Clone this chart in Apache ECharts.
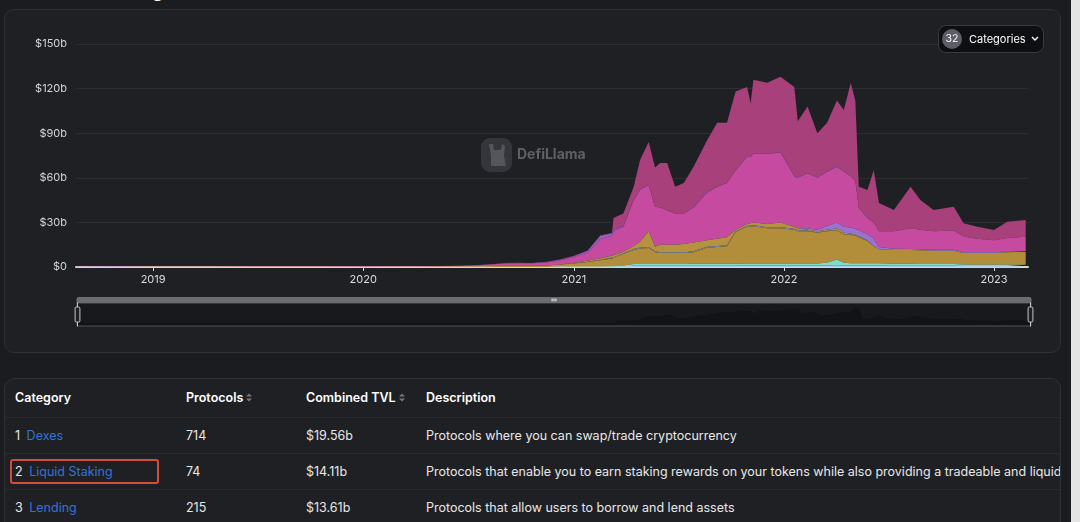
<!DOCTYPE html>
<html><head><meta charset="utf-8">
<script src="https://cdn.jsdelivr.net/npm/echarts@6/dist/echarts.min.js"></script>
<style>
html,body{margin:0;padding:0;width:1080px;height:522px;overflow:hidden;background:#1b1c20;font-family:Inter,"Noto Sans",sans-serif;}
#title{position:absolute;left:28px;top:-19px;font-size:19px;font-weight:600;color:#fff;line-height:20px;white-space:nowrap;}
#panel{position:absolute;left:4px;top:9px;width:1055px;height:342px;border:1px solid #303136;border-radius:10px;background:#1f2024;}
#chart{position:absolute;left:0;top:0;width:1055px;height:342px;}
#btn{position:absolute;left:938px;top:25px;width:104px;height:26px;border:1px solid #3a3b41;border-radius:8px;background:#0e0f12;color:#fff;font-size:11px;}
#btn .num{position:absolute;left:3px;top:3px;width:20px;height:20px;border-radius:10px;background:#5c5d66;text-align:center;line-height:20px;font-size:10.5px;}
#btn .lab{position:absolute;left:30px;top:0;line-height:26px;}
#btn svg{position:absolute;left:92px;top:10px;}
#tpanel{position:absolute;left:4px;top:378px;width:1055px;height:160px;border:1px solid #303136;border-radius:10px;background:#1f2024;overflow:hidden;color:#e8e8e8;font-size:12.5px;white-space:nowrap;}
.cell{position:absolute;line-height:16px;}
.hd{font-weight:600;color:#fff;}
.lnk{color:#3573d9;margin-left:3px;}
.sep{position:absolute;left:0;width:1055px;height:1px;background:#292a2f;}
#hl{position:absolute;left:5px;top:80px;width:145px;height:21px;border:2px solid #d64b3a;border-radius:3px;}
#scroll{position:absolute;right:0;top:0;width:9px;height:522px;background:#e4e4e4;}
</style></head>
<body>
<div id="title">Protocol Categories</div>
<div id="panel"><div id="chart"></div></div>
<div id="btn"><div class="num">32</div><div class="lab">Categories</div>
<svg width="8" height="6" viewBox="0 0 8 6"><path d="M1 1 L4 4 L7 1" stroke="#fff" stroke-width="1.4" fill="none"/></svg></div>
<div id="tpanel">
  <div class="cell hd" style="left:10px;top:11px">Category</div>
  <div class="cell hd" style="left:181px;top:11px">Protocols <svg width="6" height="9" viewBox="0 0 6 9"><path d="M0 3.5 L3 0.5 L6 3.5Z M0 5.5 L3 8.5 L6 5.5Z" fill="#777"/></svg></div>
  <div class="cell hd" style="left:301px;top:11px">Combined TVL <svg width="6" height="9" viewBox="0 0 6 9"><path d="M0 3.5 L3 0.5 L6 3.5Z M0 5.5 L3 8.5 L6 5.5Z" fill="#777"/></svg></div>
  <div class="cell hd" style="left:421px;top:11px">Description</div>
  <div class="sep" style="top:38px"></div>
  <div class="cell" style="left:10px;top:49px">1 <span class="lnk">Dexes</span></div>
  <div class="cell" style="left:181px;top:49px">714</div>
  <div class="cell" style="left:301px;top:49px">$19.56b</div>
  <div class="cell" style="left:421px;top:49px">Protocols where you can swap/trade cryptocurrency</div>
  <div class="sep" style="top:74px"></div>
  <div class="cell" style="left:10px;top:85px">2 <span class="lnk">Liquid Staking</span></div>
  <div class="cell" style="left:181px;top:85px">74</div>
  <div class="cell" style="left:301px;top:85px">$14.11b</div>
  <div class="cell" style="left:421px;top:85px">Protocols that enable you to earn staking rewards on your tokens while also providing a tradeable and liquid receipt for your staked position</div>
  <div class="sep" style="top:110px"></div>
  <div class="cell" style="left:10px;top:121px">3 <span class="lnk">Lending</span></div>
  <div class="cell" style="left:181px;top:121px">215</div>
  <div class="cell" style="left:301px;top:121px">$13.61b</div>
  <div class="cell" style="left:421px;top:121px">Protocols that allow users to borrow and lend assets</div>
  <div id="hl"></div>
</div>
<div id="scroll"></div>
<script>
const dates = ['2018-08-20','2018-11-01','2019-01-01','2019-04-01','2019-07-01','2019-10-01','2020-01-01','2020-04-01','2020-06-15','2020-07-20',
'2020-08-15','2020-09-05','2020-09-25','2020-10-20','2020-11-15','2020-12-09',
'2021-01-01','2021-01-25','2021-02-16','2021-03-08','2021-03-11','2021-03-28',
'2021-04-15','2021-04-26','2021-05-11','2021-05-22','2021-05-31','2021-06-12','2021-06-26','2021-07-11',
'2021-07-28','2021-08-20','2021-09-07','2021-09-24','2021-10-09',
'2021-10-29','2021-11-04','2021-11-09','2021-12-03','2021-12-26','2022-01-19','2022-01-25','2022-02-11','2022-02-28',
'2022-03-17','2022-04-03','2022-04-15','2022-04-27','2022-05-05','2022-05-11','2022-05-26','2022-06-06','2022-06-15',
'2022-07-11','2022-08-09','2022-08-26','2022-09-18','2022-10-23',
'2022-11-09','2022-12-03','2023-01-01','2023-01-24','2023-02-25'];

const blueTvl = [0,0,0,0,0,0,0,0,0,0, 0,0,0,0,0,0, 0,0,0,0,0,0.3,
0.8,0.8,0.8,0.8,0.8,0.8,0.8,0.8, 0.9,0.9,0.9,0.9,0.9,
1.0,1.0,1.0,1.0,1.0,1.0,1.0,1.0,1.0, 1.0,1.2,1.0,1.0,1.0,1.0,1.0,1.0,1.0,
0.8,0.8,0.8,0.8,0.8, 0.7,0.6,0.6,0.6,0.6];
const cyanTvl = [0,0,0,0,0,0,0,0,0,0, 0.05,0.05,0.05,0.05,0.05,0.1, 0.1,0.1,0.2,0.3,0.4,0.7,
1.2,1.2,1.2,1.2,1.2,1.2,1.2,1.2, 1.3,1.3,1.3,1.3,1.3,
1.4,1.4,1.4,1.4,1.4,1.4,1.4,1.4,1.4, 1.8,3.8,1.8,1.6,1.5,1.5,1.5,1.5,1.5,
1.4,1.4,1.3,1.3,1.3, 1.0,0.9,0.9,0.9,0.9];
const goldTvl = [0.05,0.08,0.1,0.12,0.15,0.15,0.2,0.2,0.3,0.4, 0.6,0.8,0.8,0.8,1.0,1.5, 2.2,3.2,4.3,5.5,5.6,7.7,
9.5,10.5,10.7,8.0,7.4,7.4,7.4,7.4, 7.8,10.8,11.3,11.8,21.3,
24.6,24.6,25.0,23.6,23.6,22.6,21.6,21.6,20.6, 21.2,19.5,19.0,19.0,18.5,17.5,15.0,11.5,9.5,
9.3,9.3,9.1,8.9,8.9, 7.8,7.9,7.9,8.5,8.8];
const slateTvl = [0,0,0,0,0,0,0,0,0,0, 0,0,0,0,0,0, 0.2,0.3,0.4,0.5,0.5,0.5,
0.6,0.6,0.6,0.6,0.6,0.6,0.6,0.6, 0.6,0.6,0.6,0.6,0.6,
0.7,0.7,0.7,0.7,0.7,0.7,0.7,0.5,0.4, 0.3,0.3,0.3,0.3,0.3,0.3,0.3,0,0,
0,0,0,0,0, 0,0,0,0,0];
const gold2Tvl = [0,0,0,0,0,0,0,0,0,0, 0,0,0,0,0,0, 0.3,0.6,1.0,1.2,1.5,1.1,
2.0,3.9,10.7,3.1,5.0,5.0,5.0,5.5, 5.9,4.4,4.9,5.4,0.9,
1.3,1.7,1.9,2.3,3.3,1.3,1.3,0.5,0.6, 0.7,1.2,0.9,0.6,0.5,0.5,0.2,0,0,
0,0,0,0,0, 0,0,0,0,0];
const violetTvl = [0,0,0,0,0,0,0,0,0,0, 0,0,0,0,0,0, 0,0,0,0,0,0,
0,0,0,0,0,0,0,0, 0,0,0,0,0,
0,0,0,0,0,0,0,1.0,1.0, 2.5,4.0,4.0,4.0,4.0,4.0,4.0,5.0,1.5,
0.8,0.6,0.6,0.6,0.6, 0.5,0.5,0.5,0.5,0.5];
const pinkTvl = [0.1,0.15,0.2,0.25,0.3,0.3,0.35,0.3,0.5,0.8, 1.2,1.6,1.7,1.6,2.0,3.0, 4.0,5.5,13.0,13.5,16.0,16.7,
31.0,35.0,31.0,26.8,25.0,23.0,21.0,20.5, 23.5,32.0,35.0,36.5,40.0,
45.0,44.6,46.0,47.0,47.0,34.0,34.0,37.0,35.0, 36.5,37.5,37.0,34.5,32.2,15.0,11.0,11.0,10.5,
11.7,13.9,13.2,12.4,12.9, 10.5,9.1,8.1,9.0,9.6];
const purpleTvl = [0.05,0.05,0.05,0.05,0.05,0.05,0.05,0.05,0.05,0.1, 0.1,0.15,0.2,0.2,0.3,0.4, 0.5,1.2,2.0,1.5,1.0,0.5,
0.3,0.2,0.2,0.2,0.2,0.2,0.2,0.2, 0.2,0.2,0.2,0.2,0.2,
0.2,0.2,0.2,0.2,0.2,0.2,0.2,0.2,0.2, 0.2,0.2,0.2,0.2,0.2,0.2,0.2,0.2,0,
0,0,0,0,0, 0,0,0,0,0];
const roseTvl = [0,0,0,0,0,0,0,0,0.05,0.05, 0.1,0.1,0.1,0.1,0.15,0.2, 0.2,0.2,0.5,0.3,8.0,8.5,
8.6,19.8,28.8,26.3,29.8,31.8,17.8,20.3, 27.3,34.8,42.8,40.3,52.8,
46.8,35.8,49.8,47.8,50.8,59.8,37.8,44.8,29.8, 32.8,44.3,41.4,62.5,53.8,14.0,18.6,34.8,19.0,
14.3,28.0,20.0,14.3,16.0, 9.0,8.0,6.9,11.0,11.2];

const yTicks = [0,30,60,90,120,150];

// listed top of stack first; stackOrder 'seriesDesc' puts the last one at the bottom
const layers = [
  {name:'Dexes', color:'#a8407b', values: roseTvl},
  {name:'Yield', color:'#8f62c8', values: purpleTvl},
  {name:'Lending', color:'#c64aa0', values: pinkTvl},
  {name:'Bridge', color:'#9a72d2', values: violetTvl},
  {name:'CDP', color:'#b69240', values: gold2Tvl},
  {name:'Services', color:'#7e88a2', values: slateTvl},
  {name:'Liquid Staking', color:'#b28e3b', values: goldTvl},
  {name:'Derivatives', color:'#7fdcca', values: cyanTvl},
  {name:'Synthetics', color:'#a9cbe8', values: blueTvl}
];

const chart = echarts.init(document.getElementById('chart'), null, {renderer:'canvas'});
chart.setOption({
  animation:false,
  backgroundColor:'transparent',
  grid:{left:71, right:32, top:34, bottom:85},
  xAxis:{
    type:'time', min:'2018-08-20', max:'2023-03-01',
    minInterval: 300*86400000, maxInterval: 400*86400000,
    axisLine:{show:true, lineStyle:{color:'#d6d6d6', width:2}},
    axisTick:{show:true, length:4, lineStyle:{color:'#d6d6d6'}},
    axisLabel:{color:'#dcdcdc', fontSize:11, fontFamily:'Inter', formatter:'{yyyy}', showMinLabel:false, showMaxLabel:false, margin:7},
    splitLine:{show:false}
  },
  yAxis:{
    type:'value', min:yTicks[0], max:yTicks[yTicks.length-1], interval:30,
    axisLine:{show:false}, axisTick:{show:false},
    axisLabel:{color:'#d4d4d4', fontSize:11, fontFamily:'Inter', margin:9, formatter: v => '$' + v + (v ? 'b' : '')},
    splitLine:{lineStyle:{color:'rgba(255,255,255,0.06)'}}
  },
  dataZoom:[{
    type:'slider', xAxisIndex:0, start:0, end:100,
    left:69, right:31, top:287, height:24,
    showDetail:false,
    brushSelect:true,
    backgroundColor:'rgba(0,0,0,0.12)',
    borderColor:'#55565b',
    fillerColor:'rgba(20,21,24,0.35)',
    dataBackground:{lineStyle:{color:'#26272b', width:0.5}, areaStyle:{color:'#121316', opacity:1}},
    selectedDataBackground:{lineStyle:{color:'#26272b', width:0.5}, areaStyle:{color:'#121316', opacity:1}},
    handleStyle:{color:'#1f2024', borderColor:'#c8c8c8', borderWidth:1},
    moveHandleSize:6,
    moveHandleStyle:{color:'#6b6c71', opacity:1},
    emphasis:{moveHandleStyle:{color:'#6b6c71'}, handleStyle:{borderColor:'#fff'}}
  }],
  graphic:[
    {type:'rect', left:476, top:128, shape:{width:31, height:34, r:9}, style:{fill:'#3a3b40', opacity:0.85}, z:0, silent:true},
    {type:'polygon', shape:{points:[[484,134],[488,134],[489,140],[496,140],[497,134],[500,136],[499,146],[501,156],[486,156],[486,145]]}, style:{fill:'#55565b'}, z:0, silent:true},
    {type:'text', left:512, top:138, style:{text:'DefiLlama', fill:'#5f6065', font:'bold 14px Inter'}, z:0, silent:true}
  ],
  series: layers.map(l => ({
    name:l.name, type:'line', stack:'tvl', stackOrder:'seriesDesc',
    data: dates.map((d,i) => [d, l.values[i]]),
    showSymbol:false, symbol:'none', smooth:false,
    lineStyle:{width:0},
    areaStyle:{color:l.color, opacity:1},
    itemStyle:{color:l.color},
    emphasis:{disabled:true},
    z:2
  }))
});
</script>
</body></html>
